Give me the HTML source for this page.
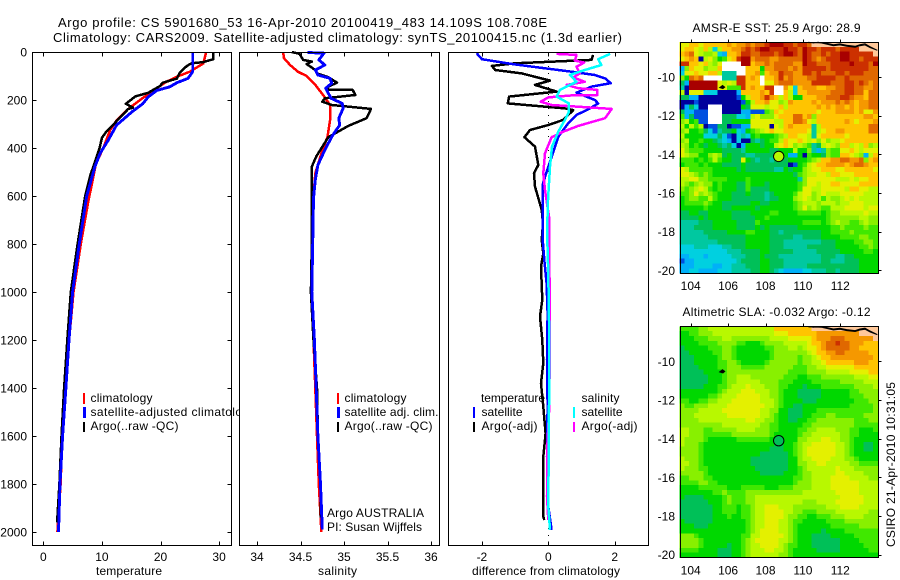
<!DOCTYPE html>
<html lang="en">
<head>
<meta charset="utf-8">
<title>Argo profile CS 5901680_53</title>
<style>
html,body{margin:0;padding:0;background:#fff;}
svg{display:block;}
text{font-family:"Liberation Sans",sans-serif;font-size:12px;fill:#000;}
.ttl{font-size:13px;}
</style>
</head>
<body>
<svg id="fig" xmlns="http://www.w3.org/2000/svg" width="900" height="580" viewBox="0 0 900 580">
<rect x="0" y="0" width="900" height="580" fill="#fff"/>
<text class="ttl" x="58" y="27" textLength="489" lengthAdjust="spacing">Argo profile: CS 5901680_53 16-Apr-2010 20100419_483 14.109S 108.708E</text>
<text class="ttl" x="53" y="42" textLength="569" lengthAdjust="spacing">Climatology: CARS2009. Satellite-adjusted climatology: synTS_20100415.nc (1.3d earlier)</text>

<g id="p1">
<rect x="32.5" y="52.5" width="199" height="493" fill="#fff"/>
<g id="p1marks"></g>
<rect x="32.5" y="52.5" width="199" height="493" fill="none" stroke="#000"/>
<g id="p1ticks"></g>
<rect x="83" y="393" width="2" height="11" fill="#f00"/>
<rect x="83" y="407" width="3" height="11" fill="#00f"/>
<rect x="83" y="422" width="2" height="10" fill="#000"/>
<text x="90.5" y="402" textLength="62">climatology</text>
<text x="90.5" y="416" textLength="165">satellite-adjusted climatology</text>
<text x="90.5" y="430" textLength="88">Argo(..raw -QC)</text>
<text x="96" y="575" textLength="66">temperature</text>
</g>

<g id="p2">
<rect x="240" y="52.5" width="199.5" height="493" fill="#fff"/>
<g id="p2marks"></g>
<rect x="239.5" y="52.5" width="200" height="493" fill="none" stroke="#000"/>
<g id="p2ticks"></g>
<rect x="337" y="393" width="2" height="11" fill="#f00"/>
<rect x="337" y="407" width="3" height="11" fill="#00f"/>
<rect x="337" y="422" width="2" height="10" fill="#000"/>
<text x="344.5" y="402" textLength="62">climatology</text>
<text x="344.5" y="416" textLength="94">satellite adj. clim.</text>
<text x="344.5" y="430" textLength="88">Argo(..raw -QC)</text>
<text x="327" y="517" textLength="97">Argo AUSTRALIA</text>
<text x="327" y="531" textLength="95">PI: Susan Wijffels</text>
<text x="318" y="575" textLength="39">salinity</text>
</g>

<g id="p3">
<rect x="448.5" y="52.5" width="200" height="493" fill="#fff"/>
<g id="p3marks"></g>
<rect x="448.5" y="52.5" width="200" height="493" fill="none" stroke="#000"/>
<g id="p3ticks"></g>
<text x="481" y="402" textLength="64">temperature</text>
<rect x="473" y="407" width="2" height="11" fill="#00f"/>
<text x="481.5" y="416" textLength="41">satellite</text>
<rect x="473" y="422" width="2" height="10" fill="#000"/>
<text x="481.5" y="430" textLength="56">Argo(-adj)</text>
<text x="581.5" y="402" textLength="38">salinity</text>
<rect x="573" y="407" width="2" height="11" fill="#0ff"/>
<text x="581.5" y="416" textLength="41">satellite</text>
<rect x="573" y="422" width="2" height="10" fill="#f0f"/>
<text x="581.5" y="430" textLength="56">Argo(-adj)</text>
<text x="472" y="575" textLength="148">difference from climatology</text>
</g>

<text x="692.5" y="32" textLength="168">AMSR-E SST: 25.9 Argo: 28.9</text>
<g id="m1"></g>
<text x="682.5" y="316" textLength="188">Altimetric SLA: -0.032 Argo: -0.12</text>
<g id="m2"></g>
<text transform="translate(895,547) rotate(-90)" textLength="165">CSIRO 21-Apr-2010 10:31:05</text>
</svg>

<script>
/* ---------- profile data ---------- */
var depthTicks=[0,200,400,600,800,1000,1200,1400,1600,1800,2000];
var tempTicks=[0,10,20,30];
var salTicks=[34,34.5,35,35.5,36];
var salTickLabels=["34","34.5","35","35.5","36"];
var diffTicks=[-2,0,2];
var lonTicks=[104,106,108,110,112];
var latTicks=[-10,-12,-14,-16,-18,-20];

var tempRedDepth=[0,48,82,103,124,160,200,243,285,326,402,465,550,620,800,1000,1200,1400,1600,1800,2000];
var tempRed=[27.8,27.3,25,22.8,21,18.8,16.5,14.2,12.5,11.4,10.2,9,8.3,7.7,6.4,5.15,4.4,3.75,3.25,2.95,2.4];
var tempArgoDepth=[0,30,42,47,58,86,111,128,142,170,185,216,232,237,296,330,358,400,458,516,600,800,1000,1200,1400,1600,1800,1960];
var tempArgo=[29,29,27.3,25.3,24.5,23.3,22.8,20.4,19.9,17.9,15.7,14.1,15.3,14.5,12.2,10.8,10,9.6,8.8,8,7.15,5.85,4.7,4.1,3.55,3.1,2.75,2.35];
var tempSatDepth=[0,82,110,128,145,160,187,215,250,305,367,422,478,548,600,800,1000,1200,1400,1600,1800,2000];
var tempSat=[25.5,25.5,24.7,22.8,21.6,19.4,17.9,17,15.1,12.5,11.1,9.7,8.8,8,7.4,6.15,5,4.39,3.85,3.3,2.85,2.6];

var salRedDepth=[0,26,54,82,100,137,179,221,283,353,422,505,603,800,1000,1200,1400,1600,1800,2000];
var salRed=[34.3,34.31,34.38,34.47,34.57,34.67,34.76,34.84,34.84,34.81,34.74,34.67,34.65,34.64,34.63,34.65,34.67,34.69,34.71,34.74];
var salArgoDepth=[0,8,33,40,50,75,89,105,128,144,158,158,179,193,207,221,237,276,308,355,401,436,478,575,800,1000,1200,1400,1600,1800,1940];
var salArgo=[34.4,34.49,34.53,34.63,34.57,34.67,34.69,34.82,34.92,34.82,34.8,35.1,35.13,34.78,34.75,34.86,35.31,35.26,35.05,34.82,34.74,34.68,34.63,34.63,34.63,34.62,34.65,34.69,34.7,34.73,34.73];
var salSatDepth=[2,5,33,54,75,96,110,130,151,193,214,235,276,304,353,408,471,533,610,800,1000,1200,1400,1600,1800,1990];
var salSat=[34.58,34.77,34.71,34.78,34.67,34.7,34.84,34.86,34.79,34.85,34.98,34.99,34.94,34.95,34.86,34.78,34.7,34.67,34.65,34.64,34.63,34.66,34.68,34.7,34.73,34.75];

var diffTempArgoDepth=[12,33,47,58,75,89,119,137,165,186,214,235,242,283,304,325,355,394,471,505,561,658,714,783,839,894,1033,1102,1200,1297,1380,1478,1589,1686,1936,1950];
var diffTempArgo=[1.35,1.3,-1,-1.7,-1.6,-0.8,0.05,-0.4,0.25,-1.18,-1.22,0.5,0.75,0.45,0,-0.55,-0.72,-0.4,-0.3,-0.43,-0.4,-0.2,-0.16,-0.2,-0.15,-0.22,-0.18,-0.25,-0.18,-0.15,-0.22,-0.15,-0.08,-0.15,-0.15,-0.12];
var diffTempSatDepth=[5,30,50,68,82,96,110,130,144,169,200,214,239,262,297,353,422,478,547,783,866,964,1089,1283,1478,1686,1894,1991];
var diffTempSat=[-2.16,-2,-1.1,-0.1,0.7,1.4,1.71,1.88,1.3,0.85,1.4,1.5,1.2,0.85,0.6,0.3,0.14,0,-0.16,-0.17,-0.12,-0.05,-0.02,-0.04,-0.02,-0.04,0,0.1];
var diffSalArgoDepth=[8,12,36,44,61,89,106,124,137,151,158,179,179,189,207,221,237,276,308,332,355,422,505,575,686,783,1089,1478,1644,1852,1950];
var diffSalArgo=[0.25,0.85,0.8,1.08,0.85,0.95,0.75,1.1,0.55,0.9,1.48,1.48,0.85,0,-0.23,0.1,1.91,1.71,0.9,0.45,0.1,-0.1,-0.15,-0.1,0.02,0.02,0.05,0.03,-0.03,-0.04,0];
var diffSalSatDepth=[8,30,54,75,96,124,158,186,214,249,283,332,394,478,644,783,922,1200,1478,1894,1991];
var diffSalSat=[1.86,1.5,1.6,1.1,0.65,0.85,0.35,0.25,0.62,0.62,0.5,0.3,0.11,0.05,-0.02,-0.03,0,0.03,0.02,0,0.05];

/* ---------- map data: colour level of each 0.25 degree cell, -1 = no data, 16 = land ---------- */
var sstCells=[
[10,10,11,11,10,11,11,11,11,11,12,11,12,12,13,12,13,13,14,15,15,15,14,14,13,14,14,13,16,16,16,16,16,16,16,16,16,16,16,16,16,16],
[10,11,11,10,9,11,9,3,9,11,11,12,12,13,14,13,14,15,15,14,14,14,15,14,14,13,15,14,14,13,14,14,14,13,14,14,14,14,16,16,16,16],
[11,12,13,10,9,8,8,9,3,2,11,11,12,14,14,13,13,14,14,14,13,14,15,15,14,13,15,14,13,13,14,13,14,14,15,15,14,14,14,14,14,16],
[10,11,12,11,0,9,10,8,6,7,10,11,14,15,15,12,13,13,13,12,12,13,13,13,13,13,15,14,13,12,13,14,14,14,15,15,14,14,13,14,14,14],
[14,14,11,11,10,11,9,8,10,-1,-1,-1,-1,15,15,11,12,12,13,12,13,13,13,13,12,12,15,14,14,13,13,13,14,14,14,14,15,14,14,14,13,15],
[2,8,11,10,10,8,9,9,11,-1,-1,-1,-1,-1,11,11,11,6,12,12,13,13,13,12,13,12,14,14,14,14,14,13,14,14,14,14,14,14,14,14,13,13],
[3,10,10,11,10,10,11,11,9,4,4,4,-1,-1,11,11,12,7,11,12,12,14,13,13,12,12,14,14,13,14,13,13,13,14,14,13,14,14,14,13,13,13],
[8,6,13,12,13,-1,-1,-1,-1,4,4,4,14,14,11,12,11,-1,11,11,12,14,12,13,12,12,12,13,13,14,14,14,14,13,13,14,13,13,13,13,13,13],
[5,2,15,15,15,15,15,15,10,9,10,9,14,14,11,11,11,-1,10,10,12,13,13,13,12,12,12,12,14,14,14,14,13,13,13,14,14,13,14,13,12,13],
[4,0,15,15,15,15,15,15,10,10,7,7,7,14,11,12,11,11,14,14,-1,-1,12,10,3,11,12,12,12,11,11,12,12,13,13,14,14,13,13,12,12,13],
[9,0,10,10,10,3,3,3,0,0,0,0,2,11,11,11,11,12,11,14,-1,-1,11,9,3,11,11,12,12,12,12,12,13,13,13,14,14,13,13,11,13,13],
[5,5,2,2,0,0,0,0,0,0,0,0,1,6,9,11,11,12,14,12,11,9,11,9,6,6,11,11,11,12,12,13,13,13,14,14,13,12,12,11,13,13],
[0,0,0,1,0,0,0,0,0,0,0,0,0,1,6,9,11,11,12,10,10,8,9,12,11,11,11,11,12,11,12,12,12,13,12,13,12,11,12,12,13,13],
[0,2,5,3,0,0,-1,-1,-1,0,0,0,0,6,5,10,10,10,9,10,10,11,9,11,11,11,11,11,11,12,11,12,11,12,12,11,12,11,12,12,13,13],
[5,2,2,1,1,1,-1,-1,-1,0,0,0,0,2,2,1,1,1,7,8,11,10,11,11,11,11,11,11,11,10,11,11,11,12,12,12,12,11,12,10,10,12],
[7,2,5,1,1,1,-1,-1,-1,5,5,5,3,3,2,9,10,8,8,8,10,11,11,11,13,13,11,12,8,11,11,11,11,11,11,11,11,11,11,12,12,11],
[8,9,6,7,1,1,-1,-1,-1,5,5,6,6,6,6,10,10,10,10,10,9,9,11,11,13,13,12,10,9,11,11,11,11,11,11,12,11,10,11,11,11,12],
[9,6,9,7,9,0,1,1,5,5,0,1,1,2,2,10,10,10,10,0,10,9,11,12,11,11,11,11,4,9,11,11,11,11,11,11,11,11,11,11,13,13],
[8,9,6,6,7,5,3,1,4,5,5,6,3,2,6,7,8,9,10,11,10,10,11,11,11,11,11,10,4,9,10,11,11,12,12,11,11,11,11,11,13,13],
[9,6,6,6,6,3,3,3,5,3,1,0,3,4,3,6,7,6,6,6,7,8,9,11,11,10,10,9,4,10,11,11,11,11,11,10,11,11,11,11,11,11],
[8,9,6,6,7,6,6,5,4,3,2,0,3,0,0,5,4,5,6,7,7,9,11,10,10,11,10,9,10,8,10,8,9,9,10,11,11,11,11,11,11,11],
[9,8,6,7,6,5,6,6,5,4,5,3,0,2,6,6,6,5,6,6,9,10,11,10,8,9,8,7,4,5,9,10,9,8,11,11,9,10,9,11,8,9],
[10,8,7,7,7,6,6,6,6,5,5,5,5,4,6,6,6,6,6,5,5,6,6,6,9,6,6,8,4,2,4,8,7,7,10,10,11,10,9,10,10,10],
[10,9,8,8,6,6,8,9,8,5,6,5,5,5,4,4,5,5,5,5,5,5,6,2,2,6,0,7,6,6,5,8,7,7,11,11,10,9,8,2,9,11],
[7,7,7,6,7,6,7,9,7,6,6,5,5,10,6,5,4,5,5,4,5,5,5,6,6,6,6,7,8,9,11,11,12,12,13,13,12,12,13,8,11,12],
[6,7,7,7,6,7,6,6,6,5,5,5,5,6,5,5,5,5,5,5,5,5,5,0,1,6,7,9,10,11,11,12,12,12,12,11,12,13,13,12,11,11],
[10,9,7,7,7,7,7,6,6,6,6,6,5,6,5,5,5,5,5,5,4,4,6,5,6,6,8,9,10,10,11,11,11,10,10,11,11,11,11,11,11,10],
[10,10,9,8,7,8,7,6,6,6,6,6,6,6,6,6,6,6,6,6,6,6,6,6,5,7,8,9,9,10,10,9,11,11,10,10,10,11,11,11,11,11],
[9,9,10,10,8,8,7,7,7,7,6,6,6,6,7,6,6,6,6,6,6,6,6,6,6,4,8,10,10,10,10,10,10,9,9,9,10,9,10,10,11,11],
[9,8,7,8,9,8,8,6,7,6,6,6,5,5,7,6,6,6,5,6,6,6,6,6,6,7,8,10,10,9,10,10,11,11,10,10,10,10,11,11,11,11],
[8,7,8,9,10,9,7,6,7,6,6,6,5,5,7,5,5,5,5,6,6,6,6,6,6,7,10,10,9,9,10,10,10,10,10,9,11,11,10,10,9,9],
[7,7,8,10,8,9,8,7,6,6,6,5,5,5,6,5,5,5,4,5,6,6,6,6,7,9,10,10,8,9,10,9,9,9,10,10,10,10,10,9,9,9],
[6,7,8,8,7,7,9,7,6,6,6,5,5,5,5,5,5,5,4,5,5,6,6,6,8,9,10,9,8,9,7,9,8,8,9,10,9,10,9,9,9,9],
[6,7,7,7,7,8,7,6,6,5,5,5,5,5,5,6,6,5,5,6,6,6,6,6,7,8,9,9,9,8,9,9,9,8,9,9,10,10,10,9,9,9],
[6,6,6,6,6,7,6,6,6,5,5,6,6,6,6,6,5,6,6,6,6,6,6,6,7,8,10,8,9,8,7,7,9,9,9,10,10,10,10,9,10,10],
[5,5,6,6,5,5,6,6,6,6,6,5,5,5,5,6,6,6,6,7,7,6,6,6,6,7,7,7,7,7,6,7,8,8,9,9,9,9,9,10,9,9],
[5,5,5,5,6,5,6,6,6,6,6,5,5,5,5,5,6,6,7,6,6,6,6,6,6,6,6,6,6,6,6,7,8,8,8,8,8,8,9,9,8,8],
[4,4,4,4,5,5,5,6,6,6,6,6,5,5,5,5,7,6,6,6,6,6,6,6,6,6,7,7,7,7,6,7,8,9,8,8,7,7,8,9,8,8],
[4,4,4,5,5,5,5,6,6,6,6,6,5,5,5,5,6,5,6,5,5,5,5,5,5,6,6,6,6,6,6,6,7,7,8,7,7,7,7,8,7,7],
[4,4,4,4,4,5,5,5,5,5,6,6,6,6,7,7,6,6,6,5,5,4,5,5,5,5,5,5,5,5,6,6,7,7,7,7,8,7,7,7,7,7],
[4,4,4,4,4,4,5,5,5,5,5,5,5,5,6,6,6,6,6,5,5,5,5,5,4,4,5,5,5,5,6,6,6,6,7,7,7,7,8,8,7,7],
[4,4,4,4,4,4,4,4,5,5,5,5,5,5,6,6,6,6,6,5,5,5,4,4,4,4,4,4,4,4,5,5,5,6,6,6,6,7,7,8,8,7],
[3,3,3,4,4,4,3,3,3,4,4,5,5,5,6,6,6,6,6,5,5,5,4,4,4,4,4,5,5,5,5,5,5,6,6,6,6,6,7,7,8,7],
[3,3,3,3,3,3,3,3,3,3,4,4,4,5,5,5,5,6,6,5,5,5,5,5,4,4,4,4,4,5,5,5,5,5,6,6,6,6,6,7,7,6],
[2,2,3,3,3,2,3,3,3,3,3,4,4,4,5,5,5,6,5,5,5,4,4,4,4,4,4,4,4,4,5,5,5,4,4,5,5,6,6,6,6,6],
[1,2,2,3,3,3,3,3,3,3,3,3,4,5,5,5,5,6,6,5,5,5,4,4,4,4,4,4,4,4,5,5,4,4,4,5,5,5,6,6,6,6],
[2,2,2,3,3,3,3,2,2,3,3,4,4,4,5,5,5,6,6,5,5,5,4,4,4,4,4,5,5,5,5,5,5,5,5,5,5,5,6,6,6,6],
[2,2,3,3,2,2,2,2,3,3,3,4,4,4,4,5,5,6,6,5,4,3,2,2,2,2,3,3,4,4,4,5,5,4,5,5,5,5,6,6,6,6]
];
var slaCells=[
[7,7,7,7,8,8,9,9,9,9,9,9,9,9,9,9,9,9,9,9,11,11,11,11,11,11,11,11,16,16,16,16,16,16,16,16,16,16,16,16,16,16],
[6,6,7,7,8,8,8,9,9,9,9,9,9,9,9,9,9,9,9,9,10,10,10,11,11,11,11,11,11,12,12,12,12,12,12,12,12,12,16,16,16,16],
[6,6,6,7,7,7,8,8,8,9,9,8,8,8,8,8,8,8,8,9,9,9,9,10,10,10,10,10,11,12,12,12,13,13,13,12,12,12,12,12,12,16],
[6,6,6,6,7,7,7,7,8,8,8,8,7,7,6,6,6,7,8,8,8,8,9,9,9,9,9,10,11,11,12,13,13,14,13,13,12,12,12,11,11,11],
[5,6,6,6,6,6,7,7,7,8,8,7,6,6,6,6,6,6,7,7,8,8,8,9,9,8,9,10,10,11,12,13,13,13,13,13,12,12,11,11,11,11],
[5,5,6,6,6,6,6,7,7,8,8,7,6,6,6,6,6,6,6,7,8,8,8,8,8,8,8,9,10,11,11,12,12,13,13,12,12,12,12,12,11,11],
[5,5,5,6,6,6,6,6,7,8,8,7,6,6,6,6,6,6,6,7,8,8,8,8,8,7,8,8,9,10,11,11,12,12,12,12,12,12,12,12,12,11],
[5,5,5,6,6,6,6,6,7,7,8,8,7,6,6,6,6,6,7,8,8,8,8,8,8,7,8,8,9,9,10,11,11,11,11,11,11,12,12,12,11,11],
[5,5,5,5,6,6,6,6,7,7,8,8,8,7,7,7,7,7,8,8,8,8,8,8,7,7,7,8,8,9,9,10,10,10,10,10,10,11,11,11,11,11],
[5,5,5,5,5,6,6,6,6,7,8,8,8,8,8,8,8,8,8,8,8,8,8,7,7,7,7,8,8,8,8,9,9,9,9,9,10,10,10,10,11,11],
[5,5,5,5,5,5,6,6,6,7,8,8,9,9,9,8,8,8,8,8,8,8,7,7,7,6,6,7,7,7,8,8,8,8,8,8,8,9,9,9,10,10],
[5,5,5,5,5,5,6,6,6,7,8,8,9,9,9,9,9,8,8,8,8,7,7,7,6,6,6,6,7,7,7,7,7,7,8,8,8,8,8,9,9,9],
[5,5,5,5,5,6,6,6,7,7,8,9,9,9,10,9,9,9,8,8,8,7,7,6,6,6,5,6,6,6,7,7,7,7,7,7,7,8,8,8,8,9],
[6,6,6,6,6,6,6,6,7,8,9,9,9,10,10,10,9,9,9,8,8,7,6,6,6,5,5,5,5,5,6,6,6,6,6,6,7,7,8,8,8,8],
[6,6,6,6,6,6,7,7,8,9,9,9,10,10,10,10,10,9,9,8,8,7,6,6,6,5,5,5,5,5,6,6,6,6,6,6,7,7,7,8,8,8],
[7,7,6,6,7,7,8,8,9,9,9,10,10,10,10,10,10,9,9,9,8,7,6,6,6,6,5,5,5,6,6,6,6,6,6,6,6,7,7,7,8,8],
[8,7,7,8,8,8,9,9,9,9,10,10,10,10,10,10,10,10,9,9,8,7,6,6,5,5,6,6,6,6,6,6,6,6,6,6,7,7,7,7,7,8],
[8,8,8,8,9,9,9,9,9,10,10,10,10,10,10,10,10,9,9,8,8,6,6,5,5,5,6,6,6,7,7,7,7,7,7,7,7,7,7,7,7,8],
[8,8,8,9,9,9,9,9,9,9,10,10,10,10,10,10,10,9,9,8,7,6,6,5,5,5,6,6,7,7,7,8,8,7,7,7,7,7,7,8,8,8],
[8,8,8,8,9,9,9,9,9,9,9,9,9,9,10,10,9,9,8,8,7,6,6,5,5,6,6,7,7,8,8,8,8,8,8,8,8,7,7,7,8,8],
[8,8,8,8,8,8,8,8,8,9,9,9,9,9,9,9,9,8,8,7,7,6,6,6,6,6,7,7,8,8,8,8,8,8,8,8,8,7,7,7,7,7],
[9,9,8,8,8,7,7,8,8,8,8,8,9,9,9,9,8,8,8,7,7,6,6,6,6,7,7,8,8,9,9,9,9,8,8,8,7,7,6,6,6,7],
[9,9,8,8,8,7,7,7,7,7,7,8,8,8,8,8,8,8,8,7,6,6,6,6,6,7,8,8,9,9,9,9,9,9,8,8,7,7,6,6,6,6],
[9,8,8,8,8,7,6,6,6,6,6,6,7,7,7,7,7,7,7,6,6,6,6,6,6,8,8,9,9,9,10,10,9,9,8,8,7,6,6,6,6,6],
[9,8,8,8,7,6,6,6,6,6,6,6,6,6,6,6,6,6,6,6,5,5,6,6,7,8,9,9,10,10,10,10,10,9,9,8,7,6,6,5,5,6],
[8,8,8,8,7,6,6,6,6,6,6,6,6,6,6,6,6,6,6,5,5,5,6,6,7,8,9,10,10,10,10,10,10,9,9,8,7,6,6,5,5,6],
[8,8,8,8,7,6,6,6,6,6,6,6,6,6,6,6,6,5,5,5,5,5,5,6,7,8,9,10,10,10,10,10,10,9,9,8,7,6,6,6,6,6],
[9,8,8,8,7,6,6,6,6,6,6,6,6,6,6,5,5,5,5,5,5,5,5,6,6,8,9,9,10,10,10,10,9,9,9,8,8,7,6,6,6,6],
[9,9,8,8,7,6,6,6,6,6,6,6,6,6,6,5,5,5,5,5,5,5,5,6,6,8,8,9,9,10,10,9,9,9,9,9,8,8,7,7,7,7],
[9,8,8,8,7,7,6,6,6,6,6,6,6,6,6,6,5,5,5,5,5,5,5,6,6,7,8,9,9,9,9,9,9,10,9,9,9,8,8,8,8,8],
[8,8,8,8,8,7,6,6,6,6,6,6,6,6,6,6,6,5,5,5,5,5,6,6,6,7,8,8,9,9,9,9,9,10,10,9,9,9,9,8,8,8],
[7,7,8,8,8,7,7,6,6,6,6,6,6,6,6,6,6,6,6,6,6,6,6,6,7,7,8,8,9,9,9,9,10,10,10,10,9,9,9,9,8,8],
[7,7,7,7,8,8,7,7,6,6,6,6,6,6,6,6,6,6,6,6,6,6,6,6,7,8,8,8,9,9,9,9,10,10,10,10,10,10,9,9,9,9],
[6,6,6,6,7,7,7,7,7,7,6,6,6,7,7,7,7,7,6,6,6,7,7,7,8,8,8,8,9,9,9,9,10,10,10,10,10,10,9,9,9,9],
[6,6,6,6,6,6,6,7,7,8,7,7,7,7,8,8,8,8,8,8,8,8,8,8,8,8,9,9,9,9,9,9,9,10,10,10,10,10,9,9,9,9],
[6,5,5,5,5,6,6,6,6,7,8,7,7,7,8,8,9,9,9,9,9,9,9,9,9,9,9,9,9,9,9,9,9,9,10,10,10,10,10,9,9,9],
[5,5,5,5,5,5,6,6,6,7,8,7,7,7,8,8,9,9,9,9,9,9,9,9,9,9,8,8,8,9,9,9,9,10,10,10,10,10,10,9,9,9],
[5,5,5,5,5,5,5,6,6,7,7,7,6,7,7,8,9,9,10,10,10,9,9,9,8,8,8,8,8,8,8,9,9,9,10,10,10,10,9,9,9,9],
[5,5,5,5,5,5,5,6,6,7,7,7,6,7,7,8,9,9,10,10,10,10,9,9,8,8,7,7,7,8,8,8,8,9,9,9,9,9,9,9,8,8],
[5,5,5,5,5,5,5,6,6,6,7,6,6,7,7,8,9,9,10,10,10,10,9,8,8,7,7,6,6,7,7,7,8,8,8,9,9,9,9,8,8,8],
[6,5,5,5,5,5,5,6,6,6,6,6,6,6,7,8,9,9,10,10,10,9,9,8,7,7,6,6,6,6,6,7,7,7,7,8,8,8,8,8,8,8],
[6,6,6,5,5,5,6,6,6,6,6,6,6,6,7,8,9,9,10,10,10,9,9,8,7,6,6,6,6,6,6,6,7,7,7,7,7,7,8,8,8,8],
[6,6,6,6,6,6,6,6,6,6,6,6,6,6,7,8,9,10,10,10,10,9,9,8,7,6,6,6,6,6,5,6,6,6,6,7,7,7,7,7,7,7],
[8,8,8,7,6,6,6,6,6,6,6,6,6,7,7,9,9,10,10,10,10,10,9,8,7,6,6,6,5,5,5,5,6,6,6,6,6,7,7,7,7,7],
[8,8,8,8,7,6,6,6,6,6,6,6,6,7,8,9,10,10,10,10,10,9,9,8,7,6,6,6,5,5,5,5,5,5,6,6,6,6,7,7,7,7],
[8,8,8,8,7,6,6,6,6,6,5,6,6,7,8,9,9,10,10,10,10,9,8,7,7,6,6,6,5,5,5,5,5,5,6,6,6,6,6,7,7,7],
[7,7,7,7,6,6,6,6,5,5,5,6,6,7,8,9,9,9,10,10,9,9,8,7,6,6,6,6,6,5,5,5,5,5,6,6,6,6,6,6,7,7],
[6,6,6,6,6,6,6,6,5,5,5,6,6,7,8,9,9,9,9,9,9,8,8,7,6,6,6,6,6,6,6,6,6,6,6,6,6,6,6,6,6,6]
];
var levelColors=["#00009c","#0050e0","#00b0f8","#00d0e0","#00c8a0","#00c058","#00d800","#40e800","#88f000","#b8f800","#e4f000","#ffc400","#f59800","#e06800","#cc3000","#a80000","#ffc89a"];
var coastLon=[110.29,110.56,110.82,111.27,111.63,111.98,112.34,112.79,113.05,113.32,113.59,113.98,113.59,113.32,113.05,112.79,112.34,111.98,111.63,111.27,110.82,110.29];
var coastLat=[-8.2,-8.24,-8.2,-8.3,-8.38,-8.34,-8.41,-8.46,-8.38,-8.34,-8.48,-8.62,-8.43,-8.28,-8.33,-8.41,-8.36,-8.29,-8.33,-8.25,-8.23,-8.22];
var islandLon=[105.55,105.7,105.82,105.72,105.55];
var islandLat=[-10.55,-10.44,-10.52,-10.6,-10.55];
var argoLon=108.708;
var argoLat=-14.109;
var argoSstLevel=9;
var argoSlaLevel=5;

/* ---------- axis functions ---------- */
function yDepth(d){return 52+0.24*d;}
function xTemp(t){return 43.3+5.86*t;}
function xSal(s){return 257+87*(s-34);}
function xDiff(v){return 548.3+33.2*v;}
function xLon(l){return 690.7+18.7*(l-104);}
function yLat1(l){return 77+19.33*(-10-l);}
function yLat2(l){return 361.3+19.33*(-10-l);}

var NS="http://www.w3.org/2000/svg";
function get(id){return document.getElementById(id);}
function line(parent,x1,y1,x2,y2,name){
  var el=document.createElementNS(NS,"line");
  el.setAttribute("x1",x1);el.setAttribute("y1",y1);el.setAttribute("x2",x2);el.setAttribute("y2",y2);
  el.setAttribute("stroke","#000");el.setAttribute("stroke-width","1");
  el.setAttribute("shape-rendering","crispEdges");
  
  
  parent.appendChild(el);
  return el;
}
function label(parent,x,y,str,anchor,name){
  var el=document.createElementNS(NS,"text");
  el.setAttribute("x",x);el.setAttribute("y",y);el.setAttribute("text-anchor",anchor);
  el.textContent=str;
  
  
  parent.appendChild(el);
}
function profile(parent,vals,depths,xf,color,width,name){
  var pts=[];
  for(var i=0;i<vals.length;i++){pts.push(xf(vals[i]).toFixed(1)+","+yDepth(depths[i]).toFixed(1));}
  var el=document.createElementNS(NS,"polyline");
  el.setAttribute("points",pts.join(" "));
  el.setAttribute("fill","none");
  el.setAttribute("stroke",color);
  el.setAttribute("stroke-width",width);
  el.setAttribute("stroke-linejoin","round");
  el.setAttribute("shape-rendering","crispEdges");
  
  
  parent.appendChild(el);
}
function xTicks(parent,ticks,labels,xf,prefix){
  for(var i=0;i<ticks.length;i++){
    var x=Math.round(xf(ticks[i]))+0.5;
    line(parent,x,52.5,x,56.5,prefix+"-top-tick");
    line(parent,x,545.5,x,541.5,prefix+"-bottom-tick");
    label(parent,xf(ticks[i]),561,labels[i],"middle",prefix+"-tick-label");
  }
}

/* ---------- temperature panel ---------- */
profile(get("p1marks"),tempRed,tempRedDepth,xTemp,"#f00","2.5","temperature-climatology-line");
profile(get("p1marks"),tempArgo,tempArgoDepth,xTemp,"#000","2.5","temperature-argo-line");
profile(get("p1marks"),tempSat,tempSatDepth,xTemp,"#00f","2.9","temperature-satellite-line");
xTicks(get("p1ticks"),tempTicks,tempTicks.map(String),xTemp,"temperature");
depthTicks.forEach(function(d){
  var y=Math.round(yDepth(d))+0.5;
  line(get("p1ticks"),32.5,y,36.5,y,"depth-left-tick");
  line(get("p1ticks"),231.5,y,227.5,y,"depth-right-tick");
  label(get("p1ticks"),27,yDepth(d)+4.5,String(d),"end","depth-tick-label");
});

/* ---------- salinity panel ---------- */
profile(get("p2marks"),salRed,salRedDepth,xSal,"#f00","2.5","salinity-climatology-line");
profile(get("p2marks"),salArgo,salArgoDepth,xSal,"#000","2.5","salinity-argo-line");
profile(get("p2marks"),salSat,salSatDepth,xSal,"#00f","2.9","salinity-satellite-line");
xTicks(get("p2ticks"),salTicks,salTickLabels,xSal,"salinity");

/* ---------- difference panel ---------- */
var zero=line(get("p3marks"),Math.round(xDiff(0))+0.5,52,Math.round(xDiff(0))+0.5,545,"zero-difference-line");
zero.setAttribute("stroke-dasharray","1 6");
profile(get("p3marks"),diffTempArgo,diffTempArgoDepth,xDiff,"#000","2.5","difference-temp-argo-line");
profile(get("p3marks"),diffTempSat,diffTempSatDepth,xDiff,"#00f","2.5","difference-temp-satellite-line");
profile(get("p3marks"),diffSalArgo,diffSalArgoDepth,xDiff,"#f0f","2.5","difference-sal-argo-line");
profile(get("p3marks"),diffSalSat,diffSalSatDepth,xDiff,"#0ff","2.5","difference-sal-satellite-line");
xTicks(get("p3ticks"),diffTicks,diffTicks.map(String),xDiff,"difference");

/* ---------- maps ---------- */
var lon0=103.41,dLon=0.2522,lat0=-8.19,dLat=0.2491;
function drawMap(parent,cells,yLat,argoLevel,prefix){
  var top=yLat(lat0);
  for(var r=0;r<cells.length;r++){
    for(var c=0;c<cells[r].length;c++){
      var v=cells[r][c];
      var el=document.createElementNS(NS,"rect");
      var x=xLon(lon0+c*dLon),y=yLat(lat0-r*dLat);
      el.setAttribute("x",x.toFixed(2));
      el.setAttribute("y",y.toFixed(2));
      el.setAttribute("width",(dLon*18.7+0.4).toFixed(2));
      el.setAttribute("height",(dLat*19.33+0.4).toFixed(2));
      el.setAttribute("fill",v<0?"#fff":levelColors[v]);
      el.setAttribute("shape-rendering","crispEdges");
      
      
      parent.appendChild(el);
    }
  }
  var left=xLon(lon0),right=xLon(lon0+42*dLon),bottom=yLat(lat0-48*dLat);
  var path=document.createElementNS(NS,"polyline");
  path.setAttribute("points",coastLon.map(function(l,i){return xLon(l).toFixed(1)+","+yLat(coastLat[i]).toFixed(1);}).join(" "));
  path.setAttribute("fill","none");
  path.setAttribute("stroke","#000");
  path.setAttribute("stroke-width","1");
  
  
  parent.appendChild(path);
  var isl=document.createElementNS(NS,"polygon");
  isl.setAttribute("points",islandLon.map(function(l,i){return xLon(l).toFixed(1)+","+yLat(islandLat[i]).toFixed(1);}).join(" "));
  isl.setAttribute("fill","#000");
  isl.setAttribute("stroke","#000");
  isl.setAttribute("stroke-width","1");
  
  
  parent.appendChild(isl);
  var circ=document.createElementNS(NS,"circle");
  circ.setAttribute("cx",xLon(argoLon).toFixed(1));
  circ.setAttribute("cy",yLat(argoLat).toFixed(1));
  circ.setAttribute("r","5.2");
  circ.setAttribute("fill",levelColors[argoLevel]);
  circ.setAttribute("stroke","#000");
  circ.setAttribute("stroke-width","1");
  
  
  parent.appendChild(circ);
  var frame=document.createElementNS(NS,"rect");
  frame.setAttribute("x",Math.round(left)+0.5);
  frame.setAttribute("y",Math.round(top)+0.5);
  frame.setAttribute("width",Math.round(right-left));
  frame.setAttribute("height",Math.round(bottom-top));
  frame.setAttribute("fill","none");
  frame.setAttribute("stroke","#000");
  
  
  parent.appendChild(frame);
  lonTicks.forEach(function(l){
    var x=Math.round(xLon(l))+0.5;
    line(parent,x,Math.round(top)+0.5,x,Math.round(top)-2.5,prefix+"-lon-tick");
    label(parent,xLon(l),bottom+17,String(l),"middle",prefix+"-lon-label");
  });
  latTicks.forEach(function(l){
    var y=Math.round(yLat(l))+0.5;
    line(parent,Math.round(right)+0.5,y,Math.round(right)+3.5,y,prefix+"-lat-tick");
    label(parent,675,yLat(l)+4.5,String(l),"end",prefix+"-lat-label");
  });
}
drawMap(get("m1"),sstCells,yLat1,argoSstLevel,"sst-map");
drawMap(get("m2"),slaCells,yLat2,argoSlaLevel,"sla-map");
</script>
</body>
</html>
